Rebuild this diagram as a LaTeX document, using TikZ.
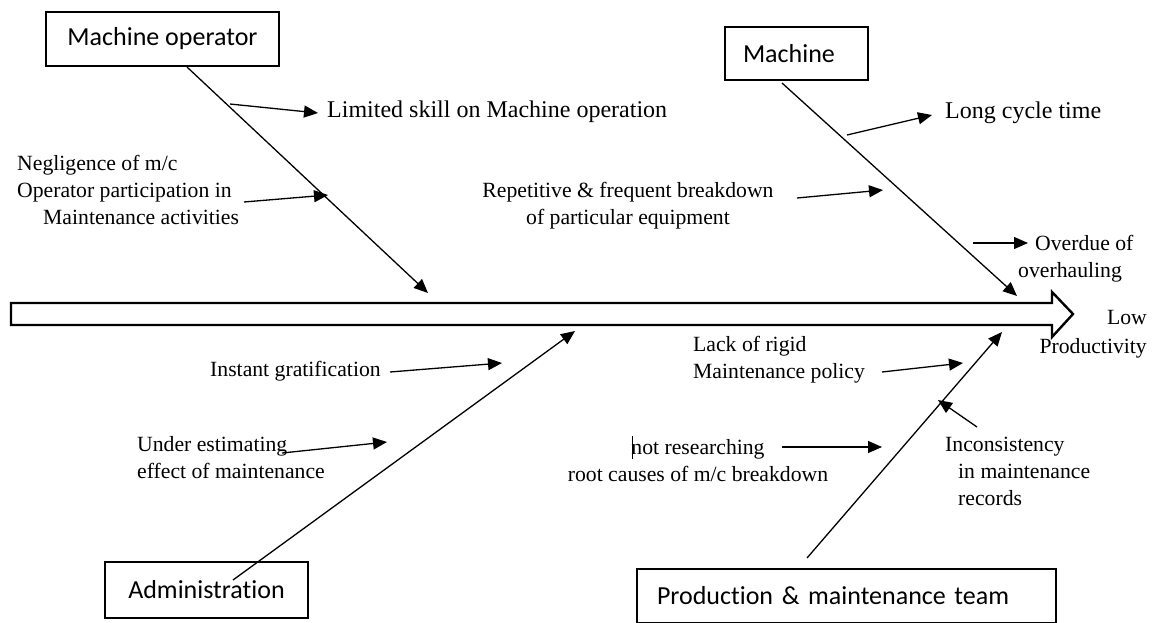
\documentclass[tikz,border=0pt]{standalone}
\usepackage{fontspec}
\setmainfont{Liberation Serif}
\newfontfamily\boxfont[RawFeature={-liga;-clig}]{Carlito}
\usetikzlibrary{arrows.meta}
\begin{document}
\begin{tikzpicture}[x=1pt,y=-1pt,
  catbox/.style={draw, line width=1.3pt, font=\boxfont\fontsize{26}{31}\selectfont, inner sep=0pt},
  bone/.style={line width=1.3pt, -{Triangle[length=14pt,width=12pt]}},
  cause/.style={font=\fontsize{21.7}{27}\selectfont, inner sep=0pt},
  bigcause/.style={font=\fontsize{24}{29}\selectfont, inner sep=0pt},
]
\clip (0,0) rectangle (1152,622);

% spine of the fishbone (block arrow towards the effect)
\draw[line width=2.4pt, fill=white, line join=miter]
  (11,303) -- (1052,303) -- (1052,292) -- (1073,314) -- (1052,337)
  -- (1052,325) -- (11,325) -- cycle;

% category boxes
\node[catbox, minimum width=233pt, minimum height=54pt] (mo) at (162.5,39) {Machine operator};
\node[catbox, minimum width=143pt, minimum height=53pt, text width=107pt, align=left] (mc) at (796.5,53.5) {Machine};
\node[catbox, minimum width=203pt, minimum height=56pt] (adm) at (206.5,590) {Administration};
\node[catbox, minimum width=419pt, minimum height=54pt, text width=379pt, align=left] (pmt) at (846.5,596) {Production \& maintenance team};

% effect
\node[cause, anchor=north east, align=right] (effect) at (1147,310) {Low\\[2pt]Productivity};

% main bones
\coordinate (mo-foot) at (187,67);   \coordinate (mo-tip) at (428,293);
\coordinate (mc-foot) at (782,83);   \coordinate (mc-tip) at (1017,296);
\coordinate (adm-foot) at (233,580); \coordinate (adm-tip) at (575,331);
\coordinate (pmt-foot) at (807,558); \coordinate (pmt-tip) at (1002,332);
\draw[bone] (mo-foot) -- (mo-tip);
\draw[bone] (mc-foot) -- (mc-tip);
\draw[bone] (adm-foot) -- (adm-tip);
\draw[bone] (pmt-foot) -- (pmt-tip);

% causes
\node[bigcause, anchor=west] (c-skill) at (327,112) {Limited skill on Machine operation};
\node[cause, anchor=north west, align=left] (c-neg) at (17,155)
  {Negligence of m/c\\Operator participation in\\\hspace*{26pt}Maintenance activities};
\node[bigcause, anchor=west] (c-cycle) at (945,113) {Long cycle time};
\node[cause, anchor=north, align=center] (c-rep) at (628,182)
  {Repetitive \& frequent breakdown\\of particular equipment};
\node[cause, anchor=north west, align=left] (c-over) at (1018,235)
  {\hspace*{17pt}Overdue of\\overhauling};
\node[cause, anchor=west] (c-inst) at (210,371) {Instant gratification};
\node[cause, anchor=north west, align=left] (c-under) at (137,436)
  {Under estimating\\effect of maintenance};
\node[cause, anchor=north west, align=left] (c-lack) at (693,336)
  {Lack of rigid\\Maintenance policy};
\node[cause, anchor=north, align=center] (c-root) at (698,436)
  {\rlap{\hspace{0.5pt}\rule[-5pt]{0.9pt}{23pt}}not researching\\root causes of m/c breakdown};
\node[cause, anchor=north west, align=left] (c-rec) at (945,437)
  {Inconsistency\\\hspace*{13pt}in maintenance\\\hspace*{13pt}records};

% small arrows from the causes
\coordinate (s1) at (230,104); \coordinate (t1) at (318,113);
\coordinate (s2) at (244,202); \coordinate (t2) at (328,195);
\coordinate (s3) at (847,135); \coordinate (t3) at (932,115);
\coordinate (s4) at (797,198); \coordinate (t4) at (883,190);
\coordinate (s5) at (973,243); \coordinate (t5) at (1028,243);
\coordinate (s6) at (390,372); \coordinate (t6) at (502,363);
\coordinate (s7) at (282,453); \coordinate (t7) at (387,442);
\coordinate (s8) at (882,372); \coordinate (t8) at (963,363);
\coordinate (s9) at (782,447); \coordinate (t9) at (882,447);
\coordinate (s10) at (977,427); \coordinate (t10) at (938,400);
\foreach \i in {1,...,10} {\draw[bone] (s\i) -- (t\i);}
\end{tikzpicture}
\end{document}
